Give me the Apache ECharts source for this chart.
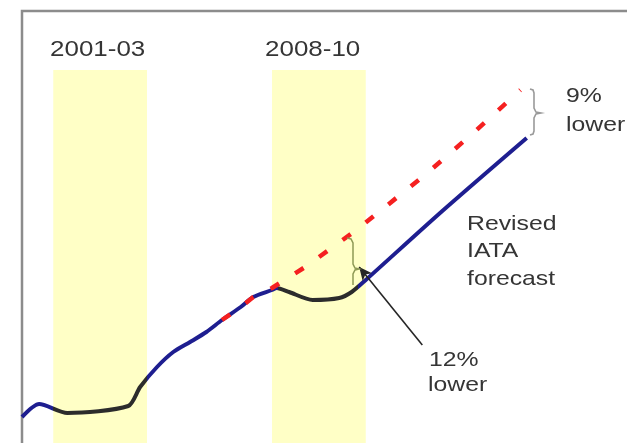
<!DOCTYPE html>
<html>
<head>
<meta charset="utf-8">
<script src="https://cdn.jsdelivr.net/npm/echarts@6/dist/echarts.min.js"></script>
<style>
  html, body { margin: 0; padding: 0; background: #fff; }
  #chart { width: 627px; height: 443px; }
</style>
</head>
<body>
<div id="chart"></div>
<script>
// traffic index (arbitrary units), actual + revised forecast
var actualYears  = [2000.0, 2000.55, 2001.45, 2003.4, 2003.78, 2004.32, 2004.84, 2005.38, 2005.9, 2006.4, 2007.0, 2007.4, 2008.0, 2008.15, 2008.55, 2009.3, 2010.15, 2010.55, 2011.0, 2013.45, 2016.15];
var actualValues = [30, 43, 34, 41, 60, 80, 95, 105, 115, 127, 140, 150, 157, 159, 155, 147, 149, 155, 167, 236, 309];

// earlier forecast (dashed)
var oldYears  = [2006.4, 2007.0, 2007.4, 2008.0, 2009.06, 2009.86, 2010.66, 2011.46, 2012.97, 2014.44, 2015.95];
var oldValues = [127, 140, 150, 159, 180, 198, 216, 236, 274, 314, 357];

var recessionBands = [[2001, 2004], [2008, 2011]];
var bandLabels = ['2001-03', '2008-10'];
var bandTop = 377;

var arrowFrom = [2012.81, 102];
var arrowTo   = [2010.79, 180];

function renderChart(){
	var _chart = echarts.init(document.getElementById('chart'), null, {renderer: 'canvas'});
	var blue = '#1e1e90', dark = '#2c2c2c', red = '#f52020';
	var font = '"Liberation Sans", Arial, sans-serif';

	var actual = [], old = [];
	for (var i = 0; i < actualYears.length; i++) actual.push([actualYears[i], actualValues[i]]);
	for (var j = 0; j < oldYears.length; j++) old.push([oldYears[j], oldValues[j]]);

	var areas = recessionBands.map(function(b){
		return [{xAxis: b[0], yAxis: bandTop}, {xAxis: b[1], yAxis: 0}];
	});

	function txt(s, x, y, size){
		return {
			type: 'text', x: x, y: y, scaleX: 1.18, z: 100,
			style: {text: s, fontSize: size, fontFamily: font, fill: '#353535', align: 'left', verticalAlign: 'middle'}
		};
	}

	var option = {
		animation: false,
		backgroundColor: '#fff',
		grid: {left: 22, top: 11, right: -20, bottom: -4, outerBoundsMode: 'none', show: true, borderColor: '#8c8c8c', borderWidth: 2.5, backgroundColor: 'transparent'},
		xAxis: {type: 'value', min: 2000, max: 2020, axisLine: {show: false}, axisTick: {show: false}, axisLabel: {show: false}, splitLine: {show: false}},
		yAxis: {type: 'value', min: 0, max: 436, axisLine: {show: false}, axisTick: {show: false}, axisLabel: {show: false}, splitLine: {show: false}},
		visualMap: {
			type: 'piecewise', show: false, dimension: 0, seriesIndex: 0,
			pieces: [
				{lt: 2001, color: blue},
				{gte: 2001, lt: 2004, color: dark},
				{gte: 2004, lt: 2008.2, color: blue},
				{gte: 2008.2, lt: 2010.75, color: dark},
				{gte: 2010.75, color: blue}
			]
		},
		series: [
			{
				name: 'Revised IATA forecast',
				type: 'line',
				data: actual,
				showSymbol: false,
				smooth: 0.25,
				z: 3,
				lineStyle: {width: 4},
				markArea: {
					silent: true,
					itemStyle: {color: '#ffffc6'},
					data: areas
				},
				markLine: {
					silent: true,
					symbol: ['none', 'arrow'],
					symbolSize: [9, 13],
					label: {show: false},
					lineStyle: {color: '#262626', width: 1.6, type: 'solid'},
					data: [[{coord: arrowFrom}, {coord: arrowTo}]]
				}
			},
			{
				name: 'Previous forecast',
				type: 'line',
				data: old,
				showSymbol: false,
				z: 4,
				lineStyle: {width: 4.5, color: red, type: [10, 19], cap: 'butt'}
			}
		],
		graphic: [
			txt(bandLabels[0], 50, 50, 22),
			txt(bandLabels[1], 265, 50, 22),
			txt('9%', 566, 96, 21),
			txt('lower', 566, 125, 21),
			txt('Revised', 467, 224, 21),
			txt('IATA', 467, 251, 21),
			txt('forecast', 467, 279, 21),
			txt('12%', 429, 360, 21),
			txt('lower', 428, 385, 21),
			{
				type: 'polyline', z: 100,
				shape: {points: [[530,89],[533,90],[534,93],[534,108],[536,112],[541,113],[536,114],[534,118],[534,131],[533,134],[530,135]]},
				style: {fill: null, stroke: '#9a9a9a', lineWidth: 1.6}
			},
			{
				type: 'polyline', z: 100,
				shape: {points: [[347,238],[351,239],[353,243],[353,264],[355,268],[359,269],[355,270],[353,274],[353,285]]},
				style: {fill: null, stroke: '#8f9a55', lineWidth: 1.5}
			}
		]
	};
	_chart.setOption(option);
}
renderChart();
</script>
</body>
</html>
